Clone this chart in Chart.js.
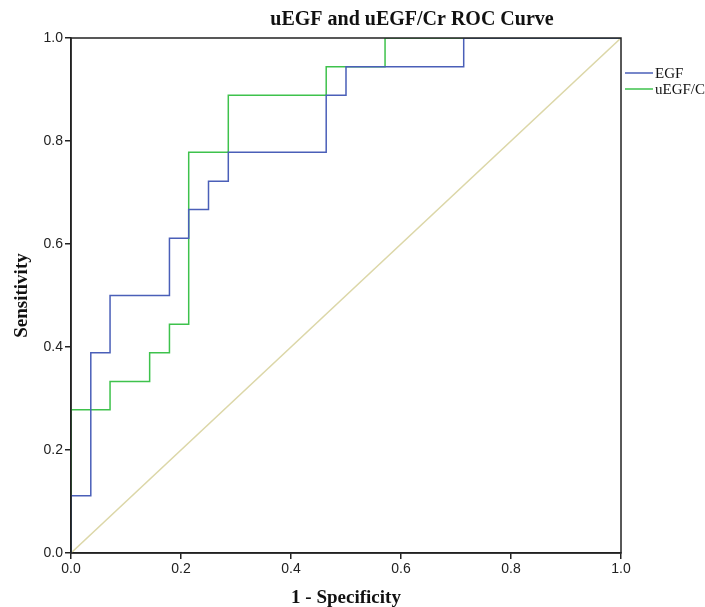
<!DOCTYPE html>
<html><head><meta charset="utf-8">
<script src="https://cdn.jsdelivr.net/npm/chart.js@4"></script>
<style>html,body{margin:0;padding:0;background:#fff}#c{display:block}</style>
</head><body>
<canvas id="c" width="705" height="607"></canvas>
<script>
const titleText = "uEGF and uEGF/Cr ROC Curve";
const xTitle = "1 - Specificity";
const yTitle = "Sensitivity";
const tickValues = [0, 0.2, 0.4, 0.6, 0.8, 1.0];
const seriesNames = ["EGF", "uEGF/Cr"];
const egfX = [0, 0, 0.036, 0.036, 0.071, 0.071, 0.179, 0.179, 0.214, 0.214, 0.25, 0.25, 0.286, 0.286, 0.464, 0.464, 0.5, 0.5, 0.714, 0.714, 1.0];
const egfY = [0, 0.111, 0.111, 0.389, 0.389, 0.5, 0.5, 0.611, 0.611, 0.667, 0.667, 0.722, 0.722, 0.778, 0.778, 0.889, 0.889, 0.944, 0.944, 1.0, 1.0];
const crX = [0, 0, 0.071, 0.071, 0.143, 0.143, 0.179, 0.179, 0.214, 0.214, 0.286, 0.286, 0.464, 0.464, 0.571, 0.571, 1.0];
const crY = [0, 0.278, 0.278, 0.333, 0.333, 0.389, 0.389, 0.444, 0.444, 0.778, 0.778, 0.889, 0.889, 0.944, 0.944, 1.0, 1.0];
const refX = [0, 1];
const refY = [0, 1];

const pts = (xs, ys) => xs.map((x, i) => ({x: x, y: ys[i]}));
const SERIF = "'Liberation Serif', 'DejaVu Serif', serif";
const SANS = "'Liberation Sans', Arial, sans-serif";

const extras = {
  id: 'extras',
  afterDraw(chart) {
    const ctx = chart.ctx, a = chart.chartArea;
    ctx.save();
    // frame
    ctx.strokeStyle = '#222';
    ctx.lineWidth = 1.5;
    ctx.strokeRect(a.left, a.top, a.right - a.left, a.bottom - a.top);
    ctx.fillStyle = '#111';
    ctx.textAlign = 'center';
    ctx.textBaseline = 'middle';
    // title
    ctx.font = "bold 20px " + SERIF;
    ctx.fillText(titleText, 412, 20);
    // axis titles
    ctx.font = "bold 19px " + SERIF;
    ctx.fillText(xTitle, (a.left + a.right) / 2, 598);
    ctx.save();
    ctx.translate(22, (a.top + a.bottom) / 2);
    ctx.rotate(-Math.PI / 2);
    ctx.fillText(yTitle, 0, 0);
    ctx.restore();
    // legend
    ctx.font = "15px " + SERIF;
    ctx.textAlign = 'left';
    const ds = chart.data.datasets;
    [0, 1].forEach((i, k) => {
      const y = 73 + k * 16;
      ctx.strokeStyle = ds[i].borderColor;
      ctx.lineWidth = 1.5;
      ctx.beginPath(); ctx.moveTo(625, y); ctx.lineTo(653, y); ctx.stroke();
      ctx.fillStyle = '#111';
      ctx.fillText(ds[i].label, 655, y + 1);
    });
    ctx.restore();
  }
};

new Chart(document.getElementById('c'), {
  type: 'scatter',
  data: {
    datasets: [
      {label: seriesNames[0], data: pts(egfX, egfY), showLine: true, borderColor: '#4a5fb8', borderWidth: 1.5, pointRadius: 0, fill: false, order: 1},
      {label: seriesNames[1], data: pts(crX, crY), showLine: true, borderColor: '#3ec24c', borderWidth: 1.5, pointRadius: 0, fill: false, order: 2},
      {label: 'ref', data: pts(refX, refY), showLine: true, borderColor: '#dcd7a8', borderWidth: 1.5, pointRadius: 0, fill: false, order: 3}
    ]
  },
  options: {
    responsive: false,
    animation: false,
    events: [],
    layout: {padding: {top: 38, right: 84, left: 0, bottom: 0}},
    plugins: {legend: {display: false}, title: {display: false}, tooltip: {enabled: false}},
    scales: {
      x: {
        type: 'linear', min: 0, max: 1,
        afterBuildTicks: s => { s.ticks = tickValues.map(v => ({value: v})); },
        afterFit: s => { s.height = 54; },
        grid: {drawOnChartArea: false, tickLength: 6, color: '#222', lineWidth: 1.5},
        border: {display: true, color: '#222', width: 1.5},
        ticks: {color: '#222', font: {family: SANS, size: 14}, padding: 2, maxRotation: 0, callback: v => v.toFixed(1)},
        title: {display: false}
      },
      y: {
        type: 'linear', min: 0, max: 1,
        afterBuildTicks: s => { s.ticks = tickValues.map(v => ({value: v})); },
        afterFit: s => { s.width = 71; },
        grid: {drawOnChartArea: false, tickLength: 6, color: '#222', lineWidth: 1.5},
        border: {display: true, color: '#222', width: 1.5},
        ticks: {color: '#222', font: {family: SANS, size: 14}, padding: 2, callback: v => v.toFixed(1)},
        title: {display: false}
      }
    }
  },
  plugins: [extras]
});
</script>
</body></html>
